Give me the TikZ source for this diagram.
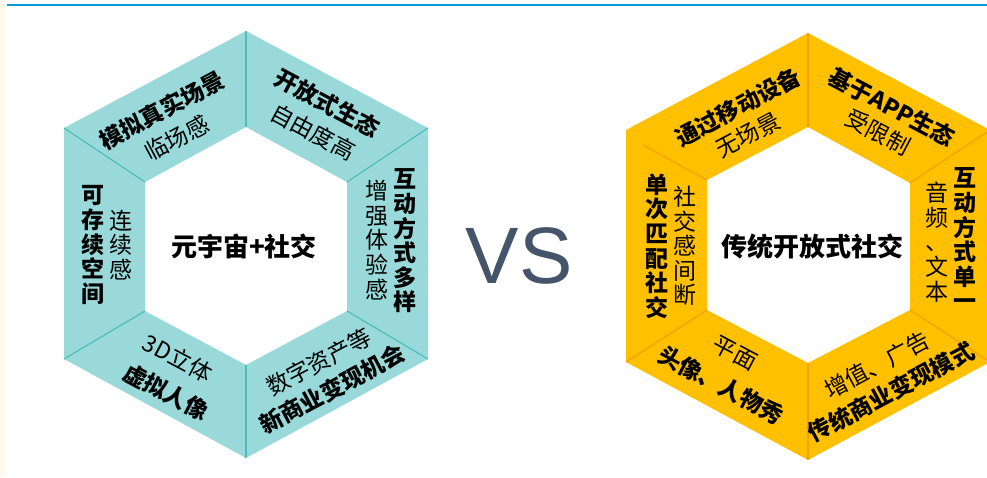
\documentclass[tikz,border=0pt]{standalone}
\usepackage{fontspec}
\setmainfont{Noto Sans CJK SC}
\newfontfamily\vsfont{Liberation Sans}
\definecolor{tealfill}{HTML}{99D9D9}
\definecolor{tealline}{HTML}{4FBDBE}
\definecolor{orfill}{HTML}{FFC000}
\definecolor{orline}{HTML}{F5A000}
\definecolor{topblue}{HTML}{0099DD}
\definecolor{cream}{HTML}{FFF9EC}
\definecolor{vsblue}{HTML}{44546A}
\tikzset{
  bl/.style={inner sep=0pt, font=\bfseries\fontsize{23}{24}\selectfont},
  rg/.style={inner sep=0pt, font=\fontsize{23}{24}\selectfont},
  vb/.style={inner sep=0pt, align=center, font=\bfseries\fontsize{23}{24.6}\selectfont},
  vr/.style={inner sep=0pt, align=center, font=\fontsize{23}{24.6}\selectfont},
  cb/.style={inner sep=0pt, font=\bfseries\fontsize{26}{28}\selectfont},
  spoke/.style={line width=1.2pt}
}
\begin{document}
\begin{tikzpicture}[x=1pt,y=-1pt]
\useasboundingbox (0,0) rectangle (987,477);
\clip (0,0) rectangle (987,477);
\fill[white] (0,0) rectangle (987,477);
\fill[cream] (0,0) rectangle (5,477);
\draw[topblue, line width=2pt] (7,5) -- (987,5);
% left hexagon
\fill[tealfill, even odd rule] (246,31) -- (428,128) -- (428,359) -- (246,458) -- (64,359) -- (64,128) -- cycle
  (246,127) -- (347,182) -- (347,311) -- (246,365) -- (145,311) -- (145,182) -- cycle;
\foreach \a/\b in {{246,31}/{246,127},{428,128}/{347,182},{428,359}/{347,311},{246,458}/{246,365},{64,359}/{145,311},{64,128}/{145,182}}
  \draw[tealline, spoke] (\a) -- (\b);
% right hexagon
\fill[orfill, even odd rule] (808,33) -- (990,130) -- (990,362) -- (808,460) -- (626,362) -- (626,130) -- cycle
  (808,127) -- (910,183) -- (910,310) -- (808,363) -- (707,310) -- (707,180) -- cycle;
\foreach \a/\b in {{808,33}/{808,127},{990,130}/{910,183},{990,362}/{910,310},{808,460}/{808,363},{626,362}/{707,310},{643,145}/{707,180}}
  \draw[orline, spoke] (\a) -- (\b);
% left labels
\node[bl, rotate=28] (l1b) at (162,110) {模拟真实场景};
\node[rg, rotate=28] (l1r) at (177,138) {临场感};
\node[bl, rotate=-28] (l2b) at (327,103) {开放式生态};
\node[rg, rotate=-28] (l2r) at (313,132) {自由度高};
\node[vb] (l3b) at (405,241) {互\\动\\方\\式\\多\\样};
\node[vr] (l3r) at (377,240) {增\\强\\体\\验\\感};
\node[rg, rotate=28] (l4r) at (319,362) {数字资产等};
\node[bl, rotate=28] (l4b) at (332,389) {新商业变现机会};
\node[rg, rotate=-28] (l5r) at (178,358) {3D立体};
\node[bl, rotate=-28] (l5b) at (166,392) {虚拟人像};
\node[vb] (l6b) at (93,245) {可\\存\\续\\空\\间};
\node[vr] (l6r) at (121,245) {连\\续\\感};
\node[cb] (lc) at (244,246) {元宇宙+社交};
% VS
\node[inner sep=0pt, text=vsblue, font=\vsfont\fontsize{80}{84}\selectfont] (vs) at (519,256) {VS};
% right labels
\node[bl, rotate=28] (r1b) at (738,107) {通过移动设备};
\node[rg, rotate=28] (r1r) at (748,135) {无场景};
\node[bl, rotate=-28] (r2b) at (892,107) {基于APP生态};
\node[rg, rotate=-28] (r2r) at (878,132) {受限制};
\node[vb] (r3b) at (965,239) {互\\动\\方\\式\\单\\一};
\node[vr] (r3r) at (937,242) {音\\频\\、\\文\\本};
\node[vb] (r6b) at (657,246) {单\\次\\匹\\配\\社\\交};
\node[vr] (r6r) at (685,246) {社\\交\\感\\间\\断};
\node[rg, rotate=-28] (r5r) at (735,353) {平面};
\node[bl, rotate=-28] (r5b) at (721,385) {头像、人物秀};
\node[rg, rotate=28] (r4r) at (877,365) {增值、广告};
\node[bl, rotate=28] (r4b) at (891,392) {传统商业变现模式};
\node[cb] (rc) at (812,247) {传统开放式社交};
\end{tikzpicture}
\end{document}
